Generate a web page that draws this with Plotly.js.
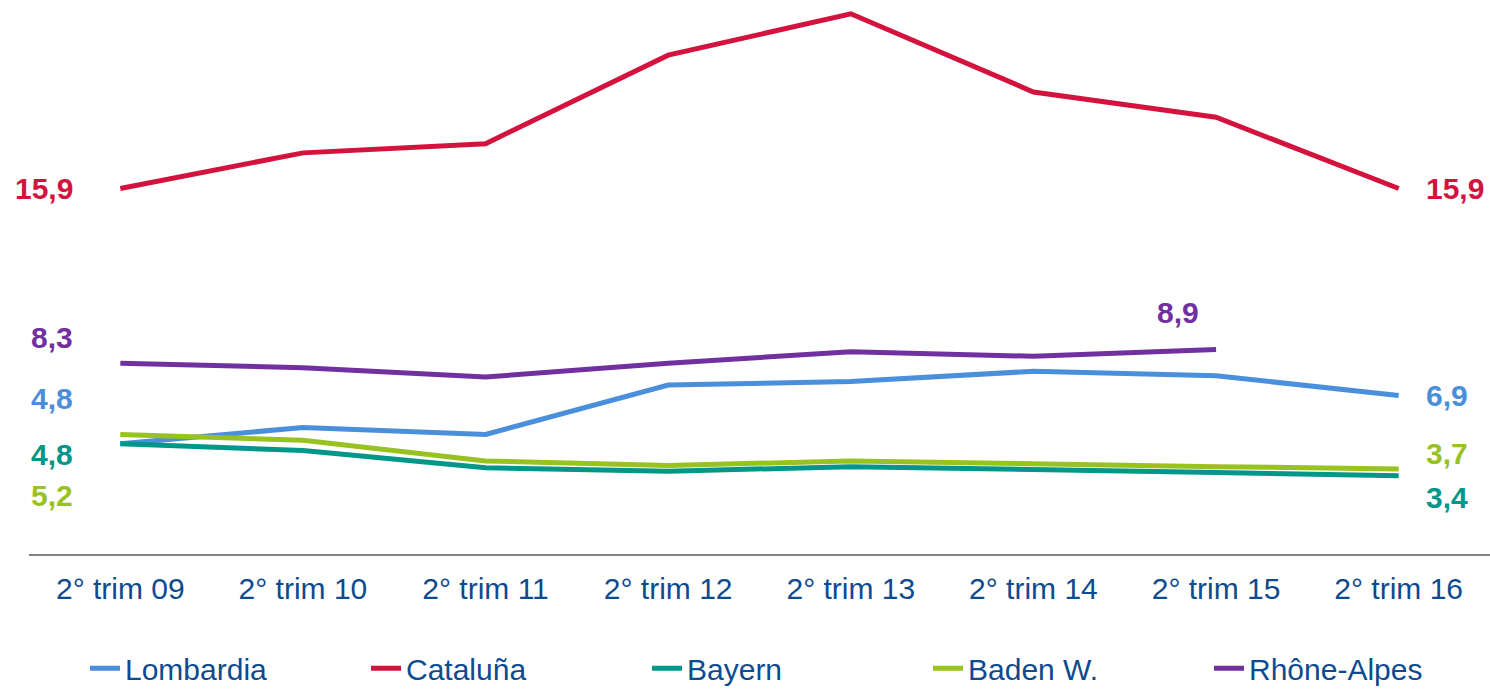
<!DOCTYPE html>
<html>
<head>
<meta charset="utf-8">
<script src="https://cdn.plot.ly/plotly-3.0.1.min.js"></script>
<style>
  html, body { margin: 0; padding: 0; background: #fff; }
  #chart1 { width: 1490px; height: 689px; }
</style>
</head>
<body>
<div id="chart1"></div>
<script>
// periods on the x axis
var periods = ['2° trim 09', '2° trim 10', '2° trim 11', '2° trim 12', '2° trim 13', '2° trim 14', '2° trim 15', '2° trim 16'];

// series
var lombardia = [4.8, 5.5, 5.2, 7.35, 7.5, 7.95, 7.75, 6.9];
var cataluna = [15.9, 17.45, 17.85, 21.7, 23.5, 20.1, 19.0, 15.9];
var bayern = [4.8, 4.5, 3.75, 3.6, 3.8, 3.7, 3.55, 3.4];
var badenW = [5.2, 4.95, 4.05, 3.85, 4.05, 3.9, 3.8, 3.7];
var rhoneAlpes = [8.3, 8.1, 7.7, 8.3, 8.8, 8.6, 8.9, null];

var names = ['Lombardia', 'Cataluña', 'Bayern', 'Baden W.', 'Rhône-Alpes'];
var colors = ['#4a8fdb', '#d4123e', '#00968a', '#98c21f', '#7030a0'];
var series = [lombardia, cataluna, bayern, badenW, rhoneAlpes];

var navy = '#0d4a8f';

var data = series.map(function(vals, i) {
    return {
        x: periods,
        y: vals,
        name: names[i],
        type: 'scatter',
        mode: 'lines',
        line: { color: colors[i], width: 5 },
        hoverinfo: 'skip'
    };
});

// value labels: series index, point index, side, pixel nudges
var labelSpots = [
    [1, 0, 'left', 0], [4, 0, 'left', 26], [0, 0, 'left', 45], [2, 0, 'left', -11], [3, 0, 'left', -61],
    [1, 7, 'right', 0], [0, 7, 'right', 0], [3, 7, 'right', 15], [2, 7, 'right', -22],
    [4, 6, 'top', 37]
];

var annotations = labelSpots.map(function(s) {
    var v = series[s[0]][s[1]];
    var a = {
        x: periods[s[1]],
        y: v,
        text: '<b>' + v.toFixed(1).replace('.', ',') + '</b>',
        showarrow: false,
        font: { family: 'Liberation Sans, Arial, sans-serif', size: 30, color: colors[s[0]] },
        yshift: s[3]
    };
    if (s[2] === 'left') { a.xanchor = 'right'; a.xshift = -45; }
    else if (s[2] === 'right') { a.xanchor = 'left'; a.xshift = 25; }
    else { a.xanchor = 'center'; a.xshift = -38; }
    return a;
});

var layout = {
    width: 1490,
    height: 689,
    margin: { l: 29, r: 0, t: 0, b: 135 },
    paper_bgcolor: '#ffffff',
    plot_bgcolor: '#ffffff',
    font: { family: 'Liberation Sans, Arial, sans-serif', color: navy },
    showlegend: true,
    legend: {
        orientation: 'h',
        x: 0.0561,
        xanchor: 'left',
        yref: 'container',
        y: 0.03,
        yanchor: 'middle',
        font: { size: 30, color: navy },
        entrywidth: 236,
        entrywidthmode: 'pixels'
    },
    xaxis: {
        type: 'category',
        range: [-0.5, 7.5],
        showgrid: false,
        zeroline: false,
        showline: true,
        linecolor: '#808080',
        linewidth: 1.5,
        ticks: '',
        ticklabelstandoff: 7,
        tickfont: { size: 30, color: navy },
        fixedrange: true
    },
    yaxis: {
        range: [0, 24.1],
        showgrid: false,
        zeroline: false,
        showticklabels: false,
        ticks: '',
        fixedrange: true
    },
    annotations: annotations
};

Plotly.newPlot('chart1', data, layout, { displayModeBar: false, staticPlot: true });
</script>
</body>
</html>
